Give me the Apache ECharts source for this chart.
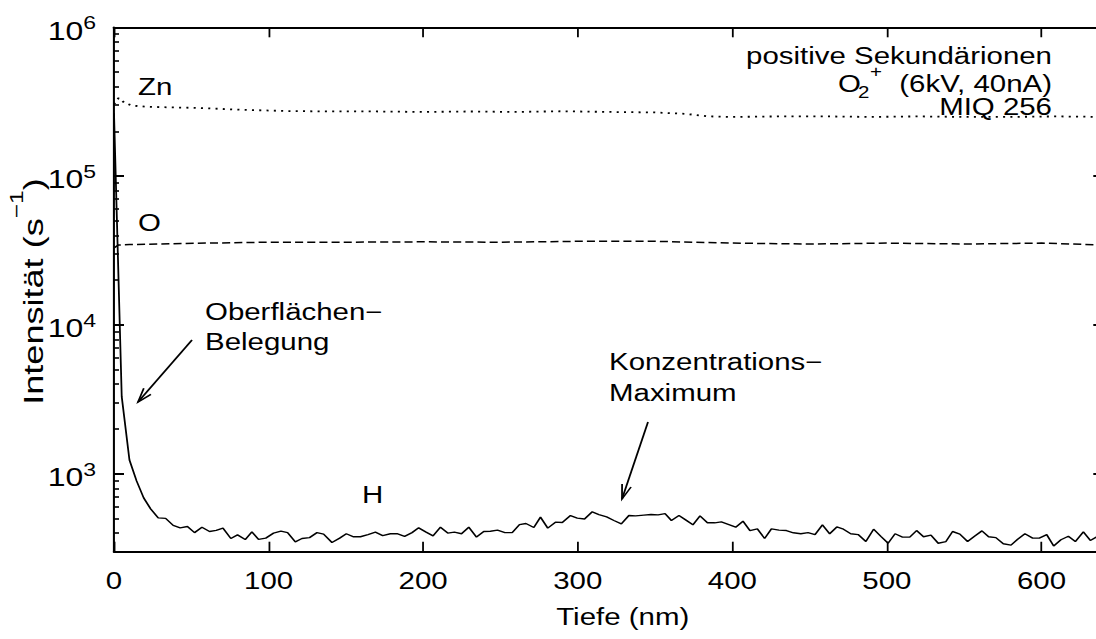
<!DOCTYPE html>
<html><head><meta charset="utf-8">
<script src="https://cdn.jsdelivr.net/npm/echarts@6/dist/echarts.min.js"></script>
<style>
html,body{margin:0;padding:0;background:#fff;overflow:hidden;width:1096px;height:639px;}
#wrap{position:absolute;left:0;top:0;width:870px;height:639px;transform:scaleX(1.28);transform-origin:0 0;}
#chart{width:870px;height:639px;}
</style></head>
<body><div id="wrap"><div id="chart"></div></div>
<script>
// ---- data ----
const xTicks = [0, 100, 200, 300, 400, 500, 600];
const yTicks = [1e3, 1e4, 1e5, 1e6];
const yMinorTicks = [400,500,600,700,800,900,2000,3000,4000,5000,6000,7000,8000,9000,
  20000,30000,40000,50000,60000,70000,80000,90000,200000,300000,400000,500000,600000,700000,800000,900000];

const hDepth = [0,5.0,10.0,14.6,19.2,23.7,28.6,33.4,38.3,42.8,47.5,52.1,56.9,61.8,66.1,70.5,75.6,79.9,84.9,89.2,
  93.5,98.2,103.2,108.0,112.3,117.3,121.6,126.5,131.3,135.6,141.0,146.0,150.3,155.0,159.4,164.3,169.1,173.8,178.8,183.1,
  188.0,192.8,197.1,201.9,206.4,211.2,215.9,220.2,224.8,229.5,234.5,239.2,243.5,248.1,252.9,257.6,262.3,266.5,271.6,275.9,
  280.6,285.6,290.0,295.3,299.7,304.4,309.4,313.7,318.7,323.4,328.2,333.1,337.4,342.8,347.4,352.0,356.5,360.6,365.5,369.8,
  374.5,379.1,383.9,388.6,392.9,397.8,402.2,406.9,411.4,416.2,420.9,425.3,430.2,435.0,439.5,444.3,449.0,453.5,458.3,463.0,
  467.6,471.9,476.6,481.4,486.4,491.4,496.1,500.8,505.3,510.1,514.8,519.2,523.7,528.5,533.2,538.2,542.5,547.2,552.2,556.9,
  561.5,565.8,570.5,575.3,580.3,584.6,589.3,594.3,598.6,603.4,607.9,612.6,617.4,621.9,627.1,631.6,636.3,640.8];
const hIntensity = [265000,3300,1240,897,690,582,506,502,451,434,443,403,438,410,417,432,368,389,362,408,
  363,370,400,412,403,349,368,373,403,394,346,370,396,378,378,391,406,385,396,397,
  380,403,434,406,383,438,400,406,396,438,376,410,412,419,403,403,456,464,436,512,
  432,474,471,525,504,497,556,533,514,486,462,525,522,528,533,530,541,486,525,491,
  455,522,469,469,476,456,438,481,416,427,368,427,419,416,402,396,403,391,455,396,
  440,425,396,391,351,425,380,342,396,376,376,416,378,388,342,351,410,394,351,383,
  414,378,373,339,332,364,396,370,370,391,328,361,381,351,408,357,380,400];

const znDepth = [0,3,7,12,20,35,55,80,110,140,170,200,230,260,290,320,350,370,385,400,430,460,490,520,550,580,610,640];
const znIntensity = [305000,335000,310000,298000,293000,290000,287000,280000,274000,272000,272000,270000,272000,270000,
  273000,270000,268000,262000,252000,250000,252000,252000,250000,252000,250000,250000,252000,250000];

const oDepth = [0,3,10,30,60,100,150,200,250,300,350,400,450,500,550,600,640];
const oIntensity = [33000,34500,34700,35000,35500,36000,36000,36200,36000,36500,36500,35500,35000,35500,35000,35500,34500];

// ---- layout helpers (reference picture is stretched horizontally) ----
const S = 1.28;
const U = x => x / S;
const FONT = "'Liberation Sans', Arial, Helvetica, sans-serif";
const zip = (a, b) => a.map((v, i) => [v, b[i]]);

function arrow(tail, tip) {
  const dx = tip[0] - tail[0], dy = tip[1] - tail[1];
  const len = Math.hypot(dx, dy), ux = dx / len, uy = dy / len;
  const L = 15, th = 0.32;
  const arm = a => {
    const c = Math.cos(a), s = Math.sin(a);
    return [tip[0] - L * (ux * c - uy * s), tip[1] - L * (ux * s + uy * c)];
  };
  const conv = p => [U(p[0]), p[1]];
  return [
    {type: 'polyline', silent: true, shape: {points: [tail, tip].map(conv)}, style: {stroke: '#000', lineWidth: 1.4, fill: 'none'}},
    {type: 'polyline', silent: true, shape: {points: [arm(th), tip, arm(-th)].map(conv)}, style: {stroke: '#000', lineWidth: 1.4, fill: 'none'}}
  ];
}
function txt(text, ax, ay, align, size, lh) {
  const st = {text: text, fill: '#000', fontSize: size || 23, fontFamily: FONT, align: align || 'left', verticalAlign: 'middle'};
  if (lh) st.lineHeight = lh;
  return {type: 'text', silent: true, x: U(ax), y: ay + 1, style: st};
}

const chart = echarts.init(document.getElementById('chart'), null, {renderer: 'svg'});
const axisLineX = {show: true, onZero: false, lineStyle: {color: '#000', width: 2}};
const axisLineY = {show: true, onZero: false, lineStyle: {color: '#000', width: 1.6}};

const option = {
  backgroundColor: '#fff',
  animation: false,
  grid: {left: U(114), right: 870 - U(1103.3), top: 27.3, bottom: 639 - 551.7, containLabel: false, outerBoundsMode: 'none'},
  xAxis: [
    {type: 'value', position: 'bottom', min: 0, max: 640,
     axisLine: axisLineX,
     axisTick: {show: true, inside: true, length: 10, customValues: xTicks, lineStyle: {color: '#000', width: 1.4}},
     minorTick: {show: false},
     axisLabel: {show: true, customValues: xTicks, margin: 18, color: '#000', fontSize: 23, fontFamily: FONT},
     splitLine: {show: false},
     name: 'Tiefe (nm)', nameLocation: 'middle', nameGap: 54, nameMoveOverlap: false,
     nameTextStyle: {color: '#000', fontSize: 23, fontFamily: FONT, padding: [0, 0, 0, 22]}},
    {type: 'value', position: 'top', min: 0, max: 640,
     axisLine: axisLineX,
     axisTick: {show: true, inside: true, length: 10, customValues: xTicks, lineStyle: {color: '#000', width: 1.4}},
     axisLabel: {show: false}, splitLine: {show: false}}
  ],
  yAxis: [
    {type: 'log', logBase: 10, position: 'left', min: 300, max: 1e6,
     axisLine: axisLineY,
     axisTick: {show: true, inside: true, length: U(10), customValues: yTicks, lineStyle: {color: '#000', width: 2}},
     minorTick: {show: false},
     axisLabel: {show: true, customValues: yTicks, margin: 14, color: '#000',
       formatter: v => '{b|10}{s|' + Math.round(Math.log10(v)) + '}',
       rich: {
         b: {fontSize: 25, fontFamily: FONT, color: '#000', padding: [7, 0, 0, 0]},
         s: {fontSize: 18, fontFamily: FONT, color: '#000', padding: [0, 0, 9, 0]}
       }},
     splitLine: {show: false}},
    {type: 'log', logBase: 10, position: 'right', min: 300, max: 1e6,
     axisLine: axisLineY,
     axisTick: {show: true, inside: true, length: U(10), customValues: yTicks, lineStyle: {color: '#000', width: 2}},
     axisLabel: {show: false}, splitLine: {show: false}},
    {type: 'log', logBase: 10, position: 'left', offset: 0, min: 300, max: 1e6,
     axisLine: {show: false, onZero: false},
     axisTick: {show: true, inside: true, length: U(5), customValues: yMinorTicks, lineStyle: {color: '#000', width: 1.6}},
     axisLabel: {show: false}, splitLine: {show: false}}
  ],
  series: [
    {name: 'Zn', type: 'line', xAxisIndex: 0, yAxisIndex: 0, data: zip(znDepth, znIntensity),
     symbol: 'none', silent: true, lineStyle: {color: '#000', width: 1.8, type: [1.6, 4.1]}},
    {name: 'O', type: 'line', xAxisIndex: 0, yAxisIndex: 0, data: zip(oDepth, oIntensity),
     symbol: 'none', silent: true, lineStyle: {color: '#000', width: 1.5, type: [6.3, 3.2]}},
    {name: 'H', type: 'line', xAxisIndex: 0, yAxisIndex: 0, data: zip(hDepth, hIntensity),
     symbol: 'none', silent: true, lineStyle: {color: '#000', width: 1.4}}
  ],
  graphic: [
    // y axis title (rotated, stretched along its reading direction like the reference)
    {type: 'text', silent: true, x: U(33), y: 291.5, rotation: Math.PI / 2, scaleX: 1.64, scaleY: 1,
     style: {text: 'Intensität (s{sup|−1})', fill: '#000', fontSize: 22, fontFamily: FONT,
       align: 'center', verticalAlign: 'middle',
       rich: {sup: {fontSize: 15, fontFamily: FONT, fill: '#000', padding: [0, 0, 26, 0]}}}},
    txt('Zn', 138, 86),
    txt('O', 138, 222),
    txt('H', 362, 494),
    txt('Oberflächen−', 205, 311, 'left', 23, 22),
    txt('Belegung', 205, 341, 'left', 23, 22),
    txt('Konzentrations−', 609, 361, 'left', 23, 22),
    txt('Maximum', 609, 392, 'left', 23, 22),
    txt('positive Sekundärionen', 1052, 55, 'right', 23, 20),
    txt('O', 838, 83, 'left', 23, 20),
    txt('2', 858, 91, 'left', 16, 11),
    txt('+', 870, 70, 'left', 16, 10),
    txt('(6kV, 40nA)', 1052, 83, 'right', 23, 20),
    txt('MIQ 256', 1052, 106, 'right', 23, 18),
    ...arrow([192, 340], [138, 402]),
    ...arrow([648, 422], [622, 499])
  ]
};
chart.setOption(option);
</script></body></html>
